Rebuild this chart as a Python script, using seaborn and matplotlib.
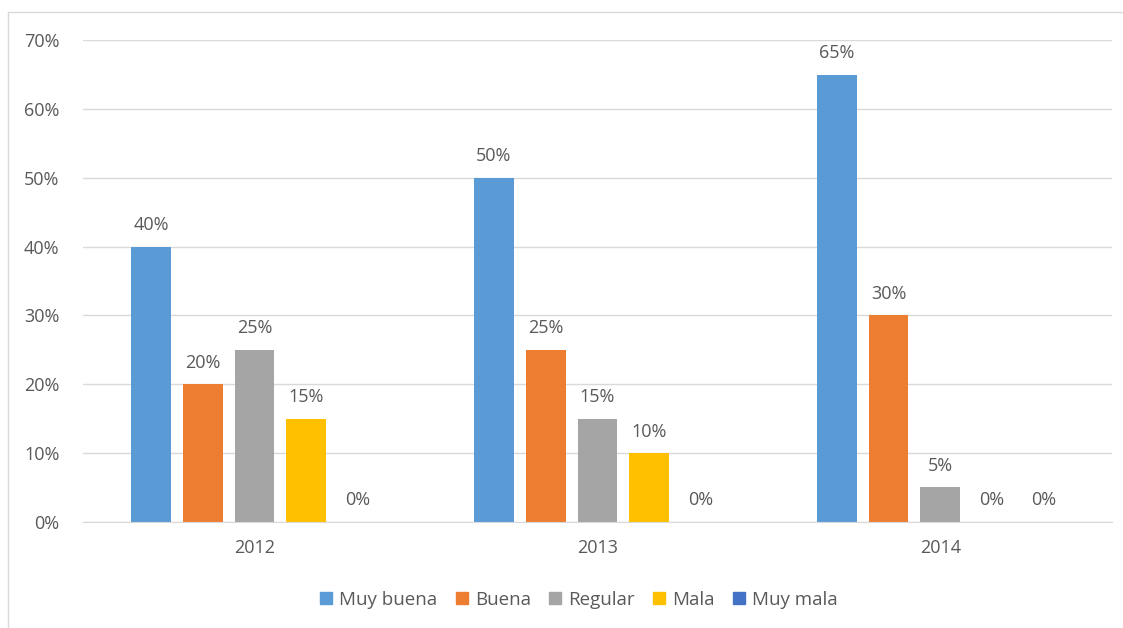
import pandas as pd
import matplotlib.pyplot as plt
import seaborn as sns
from matplotlib.lines import Line2D

years = ["2012", "2013", "2014"]
categories = ["Muy buena", "Buena", "Regular", "Mala", "Muy mala"]
muy_buena = [40, 50, 65]
buena = [20, 25, 30]
regular = [25, 15, 5]
mala = [15, 10, 0]
muy_mala = [0, 0, 0]
colors = ["#5B9BD5", "#ED7D31", "#A5A5A5", "#FFC000", "#4472C4"]

sns.set_style("white")
plt.rcParams["font.family"] = ["Open Sans", "DejaVu Sans"]

rows = []
for cat, vals in zip(categories, [muy_buena, buena, regular, mala, muy_mala]):
    for y, v in zip(years, vals):
        rows.append({"Año": y, "Calificación": cat, "Valor": v})
df = pd.DataFrame(rows)

fig = plt.figure(figsize=(11.23, 6.28), dpi=100)
ax = fig.add_axes([0.074, 0.169, 0.916, 0.767])

sns.barplot(data=df, x="Año", y="Valor", hue="Calificación", hue_order=categories,
            palette=colors, width=0.755, gap=0.23, saturation=1, linewidth=0,
            ax=ax, legend=False)

text_col = "#595959"
fs = 13
for cont in ax.containers:
    ax.bar_label(cont, labels=[f"{b.get_height():.0f}%" for b in cont],
                 padding=9, fontsize=fs, color=text_col)

ax.set_ylim(0, 70)
ax.set_xlim(-0.5, 2.5)
ax.set_yticks(range(0, 71, 10))
ax.set_yticklabels([f"{t}%" for t in range(0, 71, 10)])
ax.yaxis.grid(True, color="#D9D9D9", linewidth=1)
ax.set_axisbelow(True)
for s in ["top", "right", "left"]:
    ax.spines[s].set_visible(False)
ax.spines["bottom"].set_color("#D9D9D9")
ax.tick_params(axis="both", length=0, labelsize=fs, labelcolor=text_col)
ax.tick_params(axis="y", pad=17)
ax.tick_params(axis="x", pad=12)
ax.set_xlabel("")
ax.set_ylabel("")

handles = [Line2D([0], [0], marker="s", linestyle="", markersize=8,
                  markerfacecolor=c, markeredgecolor=c) for c in colors]
fig.legend(handles, categories, loc="center", bbox_to_anchor=(0.515, 0.045), ncol=5,
           frameon=False, fontsize=13.5, labelcolor=text_col, handlelength=0.8,
           handletextpad=0.3, columnspacing=0.9)

# chart border
fig.add_artist(Line2D([8 / 1123, 1], [1 - 12 / 628, 1 - 12 / 628], color="#D9D9D9", lw=1))
fig.add_artist(Line2D([8 / 1123, 8 / 1123], [0, 1 - 12 / 628], color="#D9D9D9", lw=1))

fig.savefig("out.png", dpi=100, facecolor="white")
